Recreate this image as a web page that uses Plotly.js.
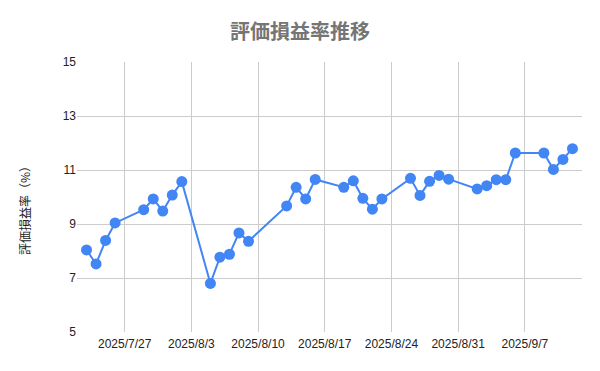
<!DOCTYPE html>
<html>
<head>
<meta charset="utf-8">
<script src="https://cdn.plot.ly/plotly-3.0.1.min.js"></script>
<style>
html,body{margin:0;padding:0;background:#fff;}
#chart{width:600px;height:371px;}
</style>
</head>
<body>
<div id="chart"></div>
<script>
const dates = ['2025-07-23','2025-07-24','2025-07-25','2025-07-26','2025-07-29','2025-07-30','2025-07-31','2025-08-01','2025-08-02',
  '2025-08-05','2025-08-06','2025-08-07','2025-08-08','2025-08-09','2025-08-13','2025-08-14','2025-08-15','2025-08-16',
  '2025-08-19','2025-08-20','2025-08-21','2025-08-22','2025-08-23','2025-08-26','2025-08-27','2025-08-28','2025-08-29','2025-08-30',
  '2025-09-02','2025-09-03','2025-09-04','2025-09-05','2025-09-06','2025-09-09','2025-09-10','2025-09-11','2025-09-12'];
const rates = [8.04,7.52,8.39,9.04,9.53,9.93,9.48,10.07,10.57,
  6.80,7.77,7.88,8.67,8.36,9.67,10.36,9.93,10.65,
  10.36,10.60,9.95,9.55,9.93,10.69,10.06,10.58,10.80,10.66,
  10.30,10.42,10.64,10.64,11.63,11.63,11.02,11.39,11.79];
const xTickVals = ['2025-07-27','2025-08-03','2025-08-10','2025-08-17','2025-08-24','2025-08-31','2025-09-07'];
const xTickText = ['2025/7/27','2025/8/3','2025/8/10','2025/8/17','2025/8/24','2025/8/31','2025/9/7'];
const yTickVals = [5,7,9,11,13,15];

const trace = {
  x: dates, y: rates, type: 'scatter', mode: 'lines+markers',
  line: {color: '#4285F4', width: 2},
  marker: {color: '#4285F4', size: 11},
  hoverinfo: 'skip'
};
const layout = {
  width: 600, height: 371,
  margin: {l: 77, r: 18, t: 62, b: 39},
  paper_bgcolor: '#fff', plot_bgcolor: '#fff',
  showlegend: false,
  title: {text: '評価損益率推移', x: 0.5, xanchor: 'center', y: 1 - 31.7/371, yanchor: 'middle',
    font: {family: '"Noto Sans CJK JP", sans-serif', size: 20, color: '#757575', weight: 'bold'}},
  xaxis: {
    type: 'date', range: ['2025-07-22','2025-09-13'],
    tickmode: 'array', tickvals: xTickVals, ticktext: xTickText,
    showgrid: true, gridcolor: '#cccccc', gridwidth: 1,
    zeroline: false, showline: false, ticks: '', ticklabelstandoff: 3,
    tickfont: {family: '"Liberation Sans", Arial, sans-serif', size: 12, color: '#222'}
  },
  yaxis: {
    range: [5, 15], tickmode: 'array', tickvals: yTickVals,
    showgrid: true, gridcolor: '#cccccc', gridwidth: 1,
    zeroline: false, showline: false, ticks: '',
    tickfont: {family: '"Liberation Sans", Arial, sans-serif', size: 12, color: '#222'}
  },
  annotations: [{
    text: '評価損益率（%）', xref: 'paper', yref: 'paper',
    x: -(77 - 25) / 505, y: (332.3 - 208) / 270.6, xanchor: 'center', yanchor: 'middle',
    textangle: -90, showarrow: false,
    font: {family: '"Noto Sans CJK JP", sans-serif', size: 12, color: '#222'}
  }]
};
Plotly.newPlot('chart', [trace], layout, {staticPlot: true, displayModeBar: false});
</script>
</body>
</html>
